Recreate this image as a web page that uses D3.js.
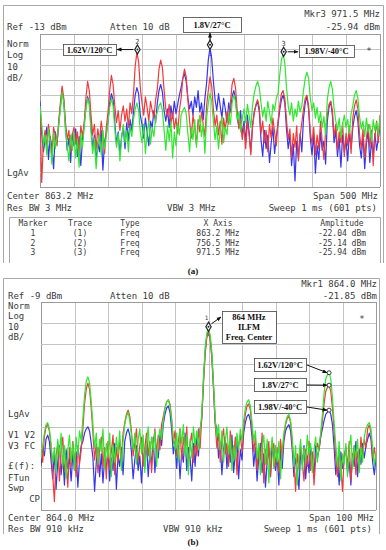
<!DOCTYPE html>
<html>
<head>
<meta charset="utf-8">
<script src="https://cdn.jsdelivr.net/npm/d3@7"></script>
<style>
  body { margin: 0; background: #fff; }
  svg text { font-family: "DejaVu Sans Mono", monospace; fill: #3a3a3a; font-size: 9px; }
  svg text.lab { font-family: "Liberation Serif", "Times New Roman", serif; font-weight: bold; fill: #111; font-size: 8.5px; }
  svg text.tbl { font-size: 8px; }
</style>
</head>
<body>
<div id="chart"></div>
<script>
// ---- panel (a): 613.2 .. 1113.2 MHz, 201 pts, dBm ----
const spanA = [613.2, 1113.2]
const refA = -13
// trace 1 (blue)
const traceA1 = [
  -57,-78,-90,-82,-74,-95,-80,-87,-101,-77,-84,-72,-60,-50,-57,-74,-89,-81,-97,-78,
  -86,-75,-93,-80,-99,-82,-72,-61,-54,-58,-73,-88,-79,-96,-84,-90,-76,-102,-83,-78,
  -70,-58,-52,-56,-71,-85,-77,-92,-80,-74,-88,-71,-83,-69,-76,-64,-53,-48,-52,-66,
  -72,-81,-68,-77,-86,-70,-74,-63,-71,-58,-50,-46,-51,-63,-70,-62,-74,-60,-68,-57,
  -65,-59,-53,-48,-42,-39,-44,-55,-62,-57,-66,-54,-61,-50,-64,-58,-69,-55,-45,-30,
  -22,-29,-44,-56,-63,-52,-60,-68,-55,-62,-71,-58,-64,-54,-50,-55,-67,-74,-63,-80,
  -70,-84,-66,-77,-90,-73,-64,-60,-57,-64,-82,-93,-76,-88,-79,-97,-84,-74,-91,-80,
  -72,-63,-56,-53,-58,-75,-88,-79,-99,-85,-109,-83,-94,-78,-90,-68,-58,-54,-62,-81,
  -92,-78,-104,-86,-95,-77,-89,-83,-98,-70,-61,-57,-66,-84,-76,-93,-81,-100,-79,-90,
  -82,-96,-77,-88,-74,-67,-63,-70,-86,-94,-79,-101,-85,-76,-97,-83,-92,-78,-89,-81,
  -74]
// trace 2 (red)
const traceA2 = [
  -62,-110,-84,-76,-88,-72,-81,-93,-74,-79,-86,-70,-58,-47,-55,-71,-82,-76,-90,-79,
  -74,-85,-77,-92,-73,-80,-71,-55,-44,-50,-66,-79,-72,-88,-75,-83,-70,-78,-91,-74,
  -64,-50,-40,-46,-60,-71,-63,-76,-66,-60,-70,-62,-74,-58,-65,-52,-34,-25,-31,-48,
  -58,-66,-54,-61,-70,-57,-63,-68,-56,-49,-36,-30,-35,-50,-62,-67,-59,-72,-64,-75,
  -68,-78,-63,-55,-42,-36,-41,-56,-70,-81,-66,-74,-85,-69,-77,-64,-72,-80,-60,-50,
  -41,-47,-62,-73,-66,-79,-70,-85,-68,-76,-64,-72,-58,-46,-42,-48,-63,-75,-69,-82,
  -73,-88,-70,-79,-92,-74,-65,-59,-56,-61,-78,-70,-84,-76,-90,-72,-81,-68,-77,-86,
  -70,-60,-52,-50,-55,-69,-82,-75,-94,-78,-87,-73,-96,-80,-71,-62,-55,-53,-60,-77,
  -85,-74,-92,-79,-88,-70,-83,-95,-76,-66,-59,-57,-63,-80,-72,-89,-77,-84,-71,-93,
  -78,-86,-73,-91,-68,-60,-56,-62,-79,-88,-75,-94,-81,-72,-87,-76,-99,-80,-70,-84,
  -66]
// trace 3 (green)
const traceA3 = [
  -60,-72,-86,-79,-92,-75,-83,-98,-78,-88,-80,-73,-62,-51,-58,-76,-85,-96,-79,-89,
  -77,-94,-82,-100,-78,-87,-74,-62,-55,-59,-77,-91,-81,-101,-85,-79,-92,-76,-88,-80,
  -70,-61,-55,-60,-75,-87,-78,-96,-81,-72,-84,-76,-90,-73,-80,-69,-62,-58,-63,-77,
  -84,-72,-91,-78,-70,-85,-74,-80,-68,-64,-60,-58,-63,-76,-89,-73,-83,-70,-94,-77,
  -86,-71,-79,-66,-63,-61,-65,-78,-90,-74,-82,-69,-87,-75,-66,-80,-72,-91,-68,-58,
  -52,-57,-70,-82,-73,-88,-76,-67,-84,-74,-79,-65,-72,-58,-53,-57,-69,-64,-77,-68,
  -62,-71,-59,-66,-74,-60,-52,-47,-44,-48,-58,-67,-61,-70,-57,-64,-72,-59,-63,-55,
  -52,-40,-30,-26,-32,-48,-60,-66,-58,-70,-62,-67,-57,-64,-60,-50,-42,-38,-42,-55,
  -63,-58,-68,-61,-71,-64,-74,-67,-79,-56,-48,-44,-49,-62,-70,-76,-68,-81,-72,-66,
  -74,-69,-78,-65,-60,-53,-50,-55,-67,-75,-70,-80,-68,-77,-72,-83,-69,-76,-71,-79,
  -67]
const markersA = [
  { n: 1, trace: "(1)", f: 863.2, amp: -22.04 },
  { n: 2, trace: "(2)", f: 756.5, amp: -25.14 },
  { n: 3, trace: "(3)", f: 971.5, amp: -25.94 }
]

// ---- panel (b): 814 .. 914 MHz, 201 pts, dBm ----
const spanB = [814, 914]
const refB = -9
const traceB1 = [
  -88,-79,-83,-75,-73,-76,-85,-94,-81,-99,-86,-78,-92,-83,-97,-80,-89,-84,-95,-82,
  -90,-81,-98,-85,-78,-76,-72,-70,-69,-71,-77,-84,-100,-86,-79,-93,-82,-96,-84,-89,
  -80,-95,-84,-90,-77,-99,-83,-88,-79,-92,-76,-72,-70,-73,-81,-94,-85,-78,-90,-83,
  -96,-82,-88,-76,-93,-81,-87,-74,-91,-79,-84,-73,-78,-68,-63,-60,-59,-62,-70,-82,
  -76,-89,-78,-94,-81,-86,-72,-90,-79,-84,-95,-77,-88,-74,-83,-70,-65,-47,-33,-25,
  -23,-26,-35,-50,-67,-70,-84,-77,-92,-80,-74,-89,-79,-86,-73,-91,-82,-76,-94,-80,
  -85,-72,-67,-64,-63,-66,-74,-88,-79,-95,-84,-77,-91,-82,-98,-86,-80,-93,-76,-85,
  -90,-83,-97,-80,-89,-76,-71,-69,-68,-71,-80,-93,-84,-90,-99,-81,-87,-78,-94,-83,
  -91,-79,-86,-92,-78,-84,-80,-74,-70,-66,-63,-62,-61,-63,-68,-79,-92,-84,-97,-81,
  -89,-84,-79,-91,-86,-97,-82,-88,-76,-93,-80,-87,-77,-84,-78,-75,-72,-75,-86,-92,
  -84]
const traceB2 = [
  -80,-86,-74,-69,-68,-71,-79,-92,-105,-83,-77,-95,-81,-74,-90,-85,-98,-79,-88,-76,
  -84,-93,-78,-87,-80,-70,-58,-51,-48,-51,-60,-72,-85,-77,-91,-80,-74,-88,-79,-94,
  -76,-89,-81,-73,-92,-79,-86,-75,-84,-72,-67,-63,-61,-64,-71,-83,-77,-70,-86,-78,
  -74,-88,-79,-72,-83,-76,-91,-78,-70,-82,-73,-80,-68,-64,-60,-57,-56,-58,-65,-77,
  -71,-83,-76,-70,-85,-74,-81,-69,-88,-77,-72,-86,-75,-83,-70,-79,-64,-48,-34,-26,
  -24,-27,-36,-51,-68,-79,-72,-86,-75,-70,-82,-77,-88,-71,-79,-84,-74,-92,-78,-73,
  -81,-69,-63,-59,-58,-61,-70,-81,-74,-90,-79,-85,-72,-96,-80,-87,-76,-93,-81,-77,
  -88,-79,-91,-75,-84,-74,-68,-65,-64,-67,-77,-85,-100,-82,-89,-78,-86,-95,-80,-88,
  -76,-90,-81,-97,-84,-77,-80,-73,-66,-58,-52,-50,-49,-52,-60,-71,-84,-93,-80,-88,
  -100,-83,-79,-89,-76,-95,-84,-78,-92,-81,-87,-74,-83,-75,-79,-70,-68,-72,-84,-79,
  -86]
const traceB3 = [
  -84,-78,-72,-68,-67,-70,-77,-86,-79,-91,-75,-83,-72,-88,-78,-94,-80,-73,-86,-77,
  -90,-74,-83,-71,-76,-65,-54,-47,-45,-48,-57,-68,-79,-72,-87,-75,-81,-70,-89,-77,
  -84,-72,-93,-78,-86,-74,-82,-71,-90,-76,-68,-64,-62,-66,-73,-80,-72,-87,-75,-70,
  -82,-73,-91,-77,-69,-85,-74,-80,-71,-88,-76,-70,-75,-66,-60,-57,-56,-59,-66,-74,
  -80,-72,-86,-70,-77,-68,-83,-73,-92,-75,-84,-69,-78,-71,-80,-72,-62,-45,-31,-24,
  -22,-25,-33,-48,-65,-74,-68,-80,-71,-86,-76,-69,-82,-74,-90,-78,-85,-72,-80,-70,
  -76,-66,-60,-57,-56,-59,-67,-76,-71,-84,-77,-92,-79,-73,-87,-75,-96,-82,-74,-89,
  -78,-86,-76,-94,-80,-72,-67,-64,-63,-66,-74,-88,-78,-97,-83,-75,-90,-79,-86,-73,
  -82,-77,-91,-80,-74,-86,-78,-72,-63,-53,-46,-44,-43,-46,-55,-67,-78,-88,-76,-95,
  -82,-87,-77,-93,-80,-73,-89,-78,-84,-75,-91,-79,-86,-74,-70,-68,-67,-70,-79,-88,
  -81]
const markerB = { n: 1, f: 864.0, amp: -21.85 }
const annB = [
  { label: "1.62V/120°C", trace: 3 },
  { label: "1.8V/27°C", trace: 2 },
  { label: "1.98V/-40°C", trace: 1 }
]
const annIndexB = 172

const colors = { 1: "#3535f0", 2: "#f23a3a", 3: "#2ee82e" }

const W = 386, H = 550
const svg = d3.select("#chart").append("svg").attr("width", W).attr("height", H)

const defs = svg.append("defs")
defs.append("marker").attr("id", "arr").attr("viewBox", "0 0 10 10")
  .attr("refX", 9).attr("refY", 5).attr("markerWidth", 5).attr("markerHeight", 5)
  .attr("orient", "auto")
  .append("path").attr("d", "M0,1 L10,5 L0,9 z").attr("fill", "#111")

function txt(x, y, s, anchor, cls) {
  const t = svg.append("text").attr("x", x).attr("y", y).text(s)
  if (anchor) t.attr("text-anchor", anchor)
  if (cls) t.attr("class", cls)
  return t
}

function drawPanel(p) {
  const x = d3.scaleLinear().domain(p.span).range([p.x0, p.x1])
  const y = d3.scaleLinear().domain([p.ref - 100, p.ref]).range([p.y1, p.y0]).clamp(true)
  const g = svg.append("g")

  const fx = d3.range(11).map(k => p.span[0] + k * (p.span[1] - p.span[0]) / 10)
  const fy = d3.range(11).map(k => p.ref - k * 10)
  g.selectAll(".gx").data(fx).enter().append("line")
    .attr("x1", d => Math.round(x(d)) + 0.5).attr("x2", d => Math.round(x(d)) + 0.5)
    .attr("y1", p.y0).attr("y2", p.y1)
    .attr("stroke", (d, i) => (i == 0 || i == 10) ? "#9a9a9a" : "#c4c4c4").attr("stroke-width", 1)
  g.selectAll(".gy").data(fy).enter().append("line")
    .attr("y1", d => Math.round(y(d)) + 0.5).attr("y2", d => Math.round(y(d)) + 0.5)
    .attr("x1", p.x0).attr("x2", p.x1)
    .attr("stroke", (d, i) => (i == 0 || i == 10) ? "#9a9a9a" : "#c4c4c4").attr("stroke-width", 1)

  defs.append("clipPath").attr("id", p.id).append("rect")
    .attr("x", p.x0).attr("y", p.y0 - 1).attr("width", p.x1 - p.x0).attr("height", p.y1 - p.y0 + 1)

  const step = (p.span[1] - p.span[0]) / (p.traces[0].values.length - 1)
  const line = d3.line().x((d, i) => x(p.span[0] + i * step)).y(d => y(d))
  p.traces.forEach(t => {
    g.append("path").datum(t.values).attr("d", line)
      .attr("clip-path", `url(#${p.id})`)
      .attr("fill", "none").attr("stroke", colors[t.n]).attr("stroke-width", 1.2)
      .attr("stroke-linejoin", "round")
  })
  return { x, y, step }
}

function diamond(cx, cy) {
  svg.append("path").attr("d", d3.symbol(d3.symbolDiamond, 24)())
    .attr("transform", `translate(${cx},${cy})`)
    .attr("fill", "#fff").attr("stroke", "#222").attr("stroke-width", 1.2)
  svg.append("circle").attr("cx", cx).attr("cy", cy).attr("r", 1).attr("fill", "#222")
}

function box(x0, y0, w, h, lines, lh) {
  svg.append("rect").attr("x", x0 + 0.5).attr("y", y0 + 0.5).attr("width", w).attr("height", h)
    .attr("fill", "#fff").attr("stroke", "#444").attr("stroke-width", 0.8)
  const top = y0 + h / 2 - (lines.length - 1) * lh / 2 + 3
  lines.forEach((s, i) => txt(x0 + w / 2, top + i * lh, s, "middle", "lab"))
}

function arrow(x1, y1, x2, y2) {
  svg.append("line").attr("x1", x1).attr("y1", y1).attr("x2", x2).attr("y2", y2)
    .attr("stroke", "#111").attr("stroke-width", 1).attr("marker-end", "url(#arr)")
}

// ---------- frames ----------
svg.append("path").attr("d", "M3.5,263 V5.5 H383.5 V263").attr("fill", "none").attr("stroke", "#a8a8a8")
svg.append("path").attr("d", "M9.5,263 V217.5 H380.5 V263").attr("fill", "none").attr("stroke", "#a8a8a8")
svg.append("path").attr("d", "M3.5,534 V278.5 H379.5 V534").attr("fill", "none").attr("stroke", "#a8a8a8")

// ---------- panel (a) ----------
const A = drawPanel({
  id: "clipA", span: spanA, ref: refA, x0: 40, x1: 380, y0: 34, y1: 187,
  traces: [{ n: 1, values: traceA1 }, { n: 2, values: traceA2 }, { n: 3, values: traceA3 }]
})

txt(380, 16.5, "Mkr3  971.5 MHz", "end")
txt(7, 30, "Ref -13 dBm")
txt(110, 30, "Atten 10 dB")
txt(380, 30, "-25.94 dBm", "end")
txt(7, 46.5, "Norm"); txt(7, 58, "Log"); txt(7, 69.5, "10"); txt(7, 81, "dB/")
txt(7, 175.5, "LgAv")
txt(369, 54, "*", "middle")
txt(7, 198.5, "Center 863.2 MHz")
txt(378, 198.5, "Span 500 MHz", "end")
txt(7, 210.5, "Res BW 3 MHz")
txt(167, 210.5, "VBW 3 MHz")
txt(377, 210.5, "Sweep 1 ms (601 pts)", "end")

// marker table
const colX = [33, 80, 130, 218, 342]
;["Marker", "Trace", "Type", "X Axis", "Amplitude"].forEach((s, i) => txt(colX[i], 226, s, "middle", "tbl"))
markersA.forEach((m, r) => {
  const cells = [String(m.n), m.trace, "Freq", m.f.toFixed(1) + " MHz", m.amp.toFixed(2) + " dBm"]
  cells.forEach((s, i) => txt(colX[i], 236 + r * 9.7, s, "middle", "tbl"))
})

// markers on panel (a)
const mA = markersA.map(m => ({ ...m, px: A.x(m.f), py: A.y(m.amp) }))
const m1 = mA[0], m2 = mA[1], m3 = mA[2]
box(183, 17, 58, 15, ["1.8V/27°C"], 10)
arrow(m1.px, m1.py - 4, m1.px, 33)
box(63, 44, 53, 11, ["1.62V/120°C"], 10)
arrow(m2.px - 4, m2.py - 3, 117, m2.py - 3)
box(299, 45, 55, 12, ["1.98V/-40°C"], 10)
arrow(m3.px + 4, m3.py - 2, 298, m3.py - 2)
diamond(m1.px, m1.py - 3); txt(m1.px, m1.py + 8, "1", "middle").style("font-size", "7px").style("fill", "#3535f0")
diamond(m2.px, m2.py - 3); txt(m2.px, m2.py - 9, "2", "middle").style("font-size", "7px")
diamond(m3.px, m3.py - 2); txt(m3.px, m3.py - 8, "3", "middle").style("font-size", "7px")

txt(193, 273.5, "(a)", "middle", "lab").style("font-size", "9px")

// ---------- panel (b) ----------
const B = drawPanel({
  id: "clipB", span: spanB, ref: refB, x0: 41, x1: 376, y0: 302, y1: 510,
  traces: [{ n: 1, values: traceB1 }, { n: 2, values: traceB2 }, { n: 3, values: traceB3 }]
})

txt(377, 287, "Mkr1  864.0 MHz", "end")
txt(8, 298.5, "Ref -9 dBm")
txt(110, 298.5, "Atten 10 dB")
txt(377, 298.5, "-21.85 dBm", "end")
txt(8, 309, "Norm"); txt(8, 319, "Log"); txt(8, 329.5, "10"); txt(8, 340, "dB/")
txt(8, 416.5, "LgAv")
txt(8, 437.5, "V1  V2"); txt(8, 448.5, "V3  FC")
txt(8, 468.5, "£(f):"); txt(8, 480.5, "FTun"); txt(8, 490.5, "Swp")
txt(40, 501.5, "CP", "end")
txt(362, 322, "*", "middle")
txt(8, 520.5, "Center 864.0 MHz")
txt(374, 520.5, "Span 100 MHz", "end")
txt(8, 531.5, "Res BW 910 kHz")
txt(163, 531.5, "VBW 910 kHz")
txt(372, 531.5, "Sweep 1 ms (601 pts)", "end")

const mbx = B.x(markerB.f), mby = B.y(markerB.amp)
box(222, 311, 54, 32, ["864 MHz", "ILFM", "Freq. Center"], 10)
arrow(mbx + 3, mby - 5, 221, 317)
diamond(mbx, mby - 2)
txt(mbx - 2, mby - 9, "1", "middle").style("font-size", "6px")

const trB = { 1: traceB1, 2: traceB2, 3: traceB3 }
const fAnn = spanB[0] + annIndexB * B.step
annB.forEach((a, i) => {
  const cy = B.y(trB[a.trace][annIndexB]), cx = B.x(fAnn)
  const by = [358, 378, 400][i]
  box(254, by, 52, 13, [a.label], 10)
  arrow(307, by + 7, cx - 2, cy)
  svg.append("circle").attr("cx", cx).attr("cy", cy).attr("r", 2)
    .attr("fill", "#fff").attr("stroke", "#222").attr("stroke-width", 0.9)
})

txt(193, 544.5, "(b)", "middle", "lab").style("font-size", "9px")
</script>
</body>
</html>
